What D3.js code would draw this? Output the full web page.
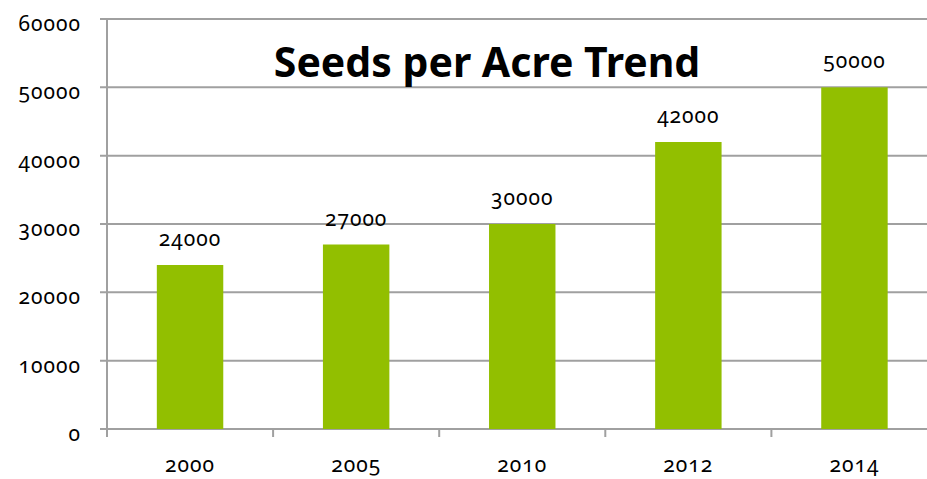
<!DOCTYPE html>
<html>
<head>
<meta charset="utf-8">
<script src="https://cdn.jsdelivr.net/npm/d3@7"></script>
<style>
  html, body { margin: 0; padding: 0; background: #fff; }
  svg { display: block; font-family: "Noto Sans", "Open Sans", sans-serif; }
  .num { font-variant-numeric: oldstyle-nums; font-feature-settings: "onum" 1; letter-spacing: 1px; }
</style>
</head>
<body>
<svg id="chart" width="927" height="479"></svg>
<script>
const years = ["2000", "2005", "2010", "2012", "2014"];
const seeds = [24000, 27000, 30000, 42000, 50000];
const yTicks = [0, 10000, 20000, 30000, 40000, 50000, 60000];
const title = "Seeds per Acre Trend";

const svg = d3.select("#chart");
const margin = { left: 107, top: 19, bottom: 50 };
const plotW = 830.5;
const plotH = 479 - margin.top - margin.bottom;

const g = svg.append("g").attr("transform", `translate(${margin.left},${margin.top})`);

const x = d3.scaleBand().domain(years).range([0, plotW]).paddingInner(0.6).paddingOuter(0.3);
const y = d3.scaleLinear().domain([0, 60000]).range([plotH, 0]);

const rows = years.map((yr, i) => ({ yr, v: seeds[i] }));

// gridlines
g.append("g")
  .selectAll("line")
  .data(yTicks)
  .join("line")
  .attr("x1", -7)
  .attr("x2", plotW)
  .attr("y1", d => y(d))
  .attr("y2", d => y(d))
  .attr("stroke", "#a0a0a0")
  .attr("stroke-width", 2);

// bars
g.selectAll("rect.bar")
  .data(rows)
  .join("rect")
  .attr("class", "bar")
  .attr("x", d => x(d.yr))
  .attr("y", d => y(d.v))
  .attr("width", x.bandwidth())
  .attr("height", d => plotH - y(d.v))
  .attr("fill", "#92bf00");

// value labels
g.selectAll("text.val")
  .data(rows)
  .join("text")
  .attr("class", "val num")
  .attr("x", d => x(d.yr) + x.bandwidth() / 2)
  .attr("y", d => y(d.v) - 19)
  .attr("text-anchor", "middle")
  .attr("font-size", 21)
  .attr("fill", "#000")
  .text(d => d.v);

// y axis line
g.append("line")
  .attr("x1", 0).attr("x2", 0)
  .attr("y1", 0).attr("y2", plotH + 8)
  .attr("stroke", "#a0a0a0")
  .attr("stroke-width", 2);

// y labels
g.append("g")
  .selectAll("text")
  .data(yTicks)
  .join("text")
  .attr("class", "num")
  .attr("x", -26)
  .attr("y", d => y(d) + 12)
  .attr("text-anchor", "end")
  .attr("font-size", 21)
  .attr("fill", "#000")
  .text(d => d);

// x axis ticks at band boundaries
const step = x.step();
g.append("g")
  .selectAll("line")
  .data(d3.range(years.length + 1))
  .join("line")
  .attr("x1", i => i * step)
  .attr("x2", i => i * step)
  .attr("y1", plotH)
  .attr("y2", plotH + 8)
  .attr("stroke", "#a0a0a0")
  .attr("stroke-width", 2);

// x labels
g.append("g")
  .selectAll("text")
  .data(years)
  .join("text")
  .attr("class", "num")
  .attr("x", d => x(d) + x.bandwidth() / 2)
  .attr("y", plotH + 43)
  .attr("text-anchor", "middle")
  .attr("font-size", 21)
  .attr("fill", "#000")
  .text(d => d);

// title
svg.append("text")
  .attr("x", 487)
  .attr("y", 77)
  .attr("text-anchor", "middle")
  .attr("font-size", 41)
  .attr("font-weight", "bold")
  .attr("fill", "#000")
  .text(title);
</script>
</body>
</html>
